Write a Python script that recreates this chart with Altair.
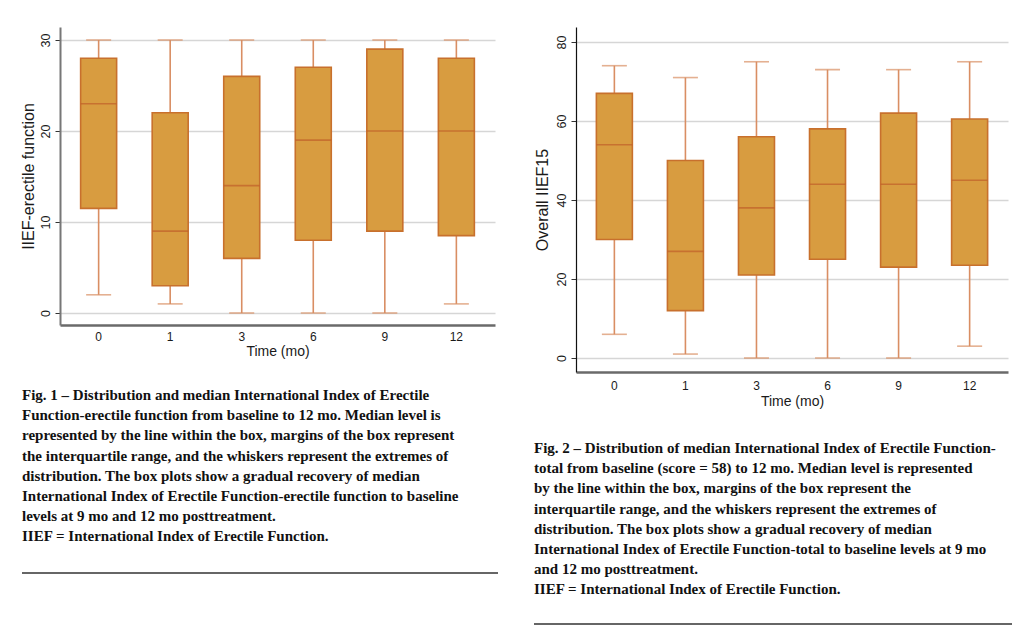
import altair as alt
import pandas as pd

times = ["0", "1", "3", "6", "9", "12"]

# Fig. 1: IIEF-erectile function
ef_min = [2, 1, 0, 0, 0, 1]
ef_q1 = [11.5, 3, 6, 8, 9, 8.5]
ef_med = [23, 9, 14, 19, 20, 20]
ef_q3 = [28, 22, 26, 27, 29, 28]
ef_max = [30, 30, 30, 30, 30, 30]

# Fig. 2: Overall IIEF15
tot_min = [6, 1, 0, 0, 0, 3]
tot_q1 = [30, 12, 21, 25, 23, 23.5]
tot_med = [54, 27, 38, 44, 44, 45]
tot_q3 = [67, 50, 56, 58, 62, 60.5]
tot_max = [74, 71, 75, 73, 73, 75]

ef_ticks = [0, 10, 20, 30]
tot_ticks = [0, 20, 40, 60, 80]

cap1 = [
    "Fig. 1 \u2013 Distribution and median International Index of Erectile",
    "Function-erectile function from baseline to 12 mo. Median level is",
    "represented by the line within the box, margins of the box represent",
    "the interquartile range, and the whiskers represent the extremes of",
    "distribution. The box plots show a gradual recovery of median",
    "International Index of Erectile Function-erectile function to baseline",
    "levels at 9 mo and 12 mo posttreatment.",
    "IIEF = International Index of Erectile Function.",
]
cap2 = [
    "Fig. 2 \u2013 Distribution of median International Index of Erectile Function-",
    "total from baseline (score = 58) to 12 mo. Median level is represented",
    "by the line within the box, margins of the box represent the",
    "interquartile range, and the whiskers represent the extremes of",
    "distribution. The box plots show a gradual recovery of median",
    "International Index of Erectile Function-total to baseline levels at 9 mo",
    "and 12 mo posttreatment.",
    "IIEF = International Index of Erectile Function.",
]

FILL = "#D89C40"
STROKE = "#C8702D"
WHISK = "#D98E63"
MED = "#C0602A"
SANS = "Liberation Sans"
SERIF = "Liberation Serif"


def panel(mins, q1s, meds, q3s, maxs, ydomain, yticks, ytitle, width, height,
          ydom_color, ydom_width, xlab_pad, xtitle_pad, ylab_pad, ytitle_pad,
          caption, cap_x, cap_y, rule_x, rule_x2, rule_y):
    df = pd.DataFrame({"time": times, "lo": mins, "q1": q1s, "med": meds,
                       "q3": q3s, "hi": maxs})
    xenc = alt.X("time:N", sort=times,
                 scale=alt.Scale(type="band", paddingInner=0, paddingOuter=0.04),
                 axis=alt.Axis(title="Time (mo)", labelAngle=0, ticks=False,
                               domainColor="#6a6a6a", domainWidth=2.5,
                               labelFont=SANS, labelFontSize=12, labelColor="#1a1a1a",
                               labelPadding=xlab_pad, titleFont=SANS, titleFontSize=14,
                               titleFontWeight="normal", titleColor="#1a1a1a",
                               titlePadding=xtitle_pad))
    yscale = alt.Scale(domain=ydomain, nice=False, zero=False)
    yaxis = alt.Axis(title=ytitle, values=yticks, grid=True, gridColor="#d6d6d6",
                     gridWidth=1.6, tickSize=5, tickColor="#333333", tickWidth=1,
                     domainColor=ydom_color, domainWidth=ydom_width,
                     labelAngle=270, labelAlign="center", labelBaseline="bottom",
                     labelPadding=ylab_pad, labelFont=SANS, labelFontSize=12.5,
                     labelColor="#1a1a1a", titleFont=SANS, titleFontSize=16,
                     titleFontWeight="normal", titleColor="#1a1a1a",
                     titlePadding=ytitle_pad)
    base = alt.Chart(df)
    w_lo = base.mark_rule(color=WHISK, strokeWidth=1.6).encode(
        x=xenc, y=alt.Y("lo:Q", scale=yscale, axis=yaxis), y2="q1:Q")
    w_hi = base.mark_rule(color=WHISK, strokeWidth=1.6).encode(
        x=xenc, y=alt.Y("q3:Q", scale=yscale, axis=yaxis), y2="hi:Q")
    c_lo = base.mark_tick(color=WHISK, size=25, thickness=1.6).encode(
        x=xenc, y=alt.Y("lo:Q", scale=yscale, axis=yaxis))
    c_hi = base.mark_tick(color=WHISK, size=25, thickness=1.6).encode(
        x=xenc, y=alt.Y("hi:Q", scale=yscale, axis=yaxis))
    box = base.mark_bar(size=36, fill=FILL, stroke=STROKE, strokeWidth=1.6).encode(
        x=xenc, y=alt.Y("q1:Q", scale=yscale, axis=yaxis), y2="q3:Q")
    med = base.mark_tick(color=MED, size=36, thickness=1.6).encode(
        x=xenc, y=alt.Y("med:Q", scale=yscale, axis=yaxis))
    cap_df = pd.DataFrame({"caption": ["\n".join(caption)]})
    cap = alt.Chart(cap_df).mark_text(
        align="left", baseline="top", font=SERIF, fontWeight="bold",
        fontSize=15, lineHeight=20.2, lineBreak="\n", color="#111111").encode(
        text="caption:N", x=alt.value(cap_x), y=alt.value(cap_y))
    rule_df = pd.DataFrame({"r": [0]})
    rule = alt.Chart(rule_df).mark_rule(color="#333333", strokeWidth=1.5).encode(
        x=alt.value(rule_x), x2=alt.value(rule_x2), y=alt.value(rule_y))
    return alt.layer(w_lo, w_hi, c_lo, c_hi, box, med, cap, rule).properties(
        width=width, height=height)


left = panel(ef_min, ef_q1, ef_med, ef_q3, ef_max, [-1.32, 31.43], ef_ticks,
             "IIEF-erectile function", 435, 298, "#777777", 2,
             6, 2, 3, 3, cap1, -38, 361, -38, 438, 546)
right = panel(tot_min, tot_q1, tot_med, tot_q3, tot_max, [-3.54, 83.8], tot_ticks,
              "Overall IIEF15", 432, 345, "#111111", 1.2,
              8, 3, 3, 5, cap2, -42, 414, -42, 436, 597)

chart = alt.hconcat(left, right, spacing=81, bounds="flush").properties(
    padding={"left": 20, "top": 27, "right": 0, "bottom": 0},
    background="white",
).configure_view(stroke=None)

chart.save("out.html", embed_options={"renderer": "svg", "actions": False})
